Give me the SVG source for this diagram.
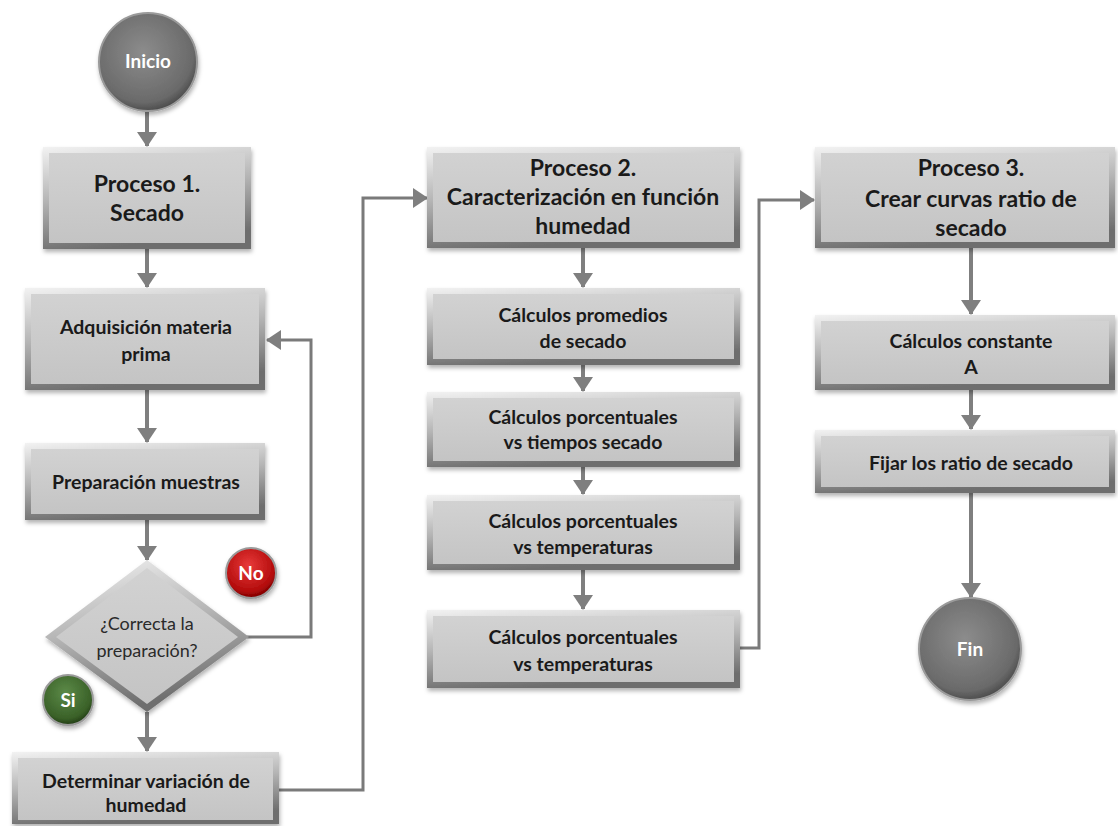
<svg xmlns="http://www.w3.org/2000/svg" width="1118" height="826" viewBox="0 0 1118 826">
<defs>
<linearGradient id="bevel" x1="0" y1="0" x2="0.25" y2="1">
<stop offset="0" stop-color="#f2f2f2"/><stop offset="0.5" stop-color="#b5b5b5"/><stop offset="1" stop-color="#6e6e6e"/>
</linearGradient>
<linearGradient id="face" x1="0" y1="0" x2="0" y2="1">
<stop offset="0" stop-color="#d2d2d2"/><stop offset="1" stop-color="#c4c4c4"/>
</linearGradient>
<radialGradient id="gray" cx="0.45" cy="0.4" r="0.6">
<stop offset="0" stop-color="#8c8c8c"/><stop offset="0.85" stop-color="#6a6a6a"/><stop offset="1" stop-color="#4e4e4e"/>
</radialGradient>
<radialGradient id="red" cx="0.45" cy="0.35" r="0.65">
<stop offset="0" stop-color="#e83a3a"/><stop offset="0.8" stop-color="#b30c0c"/><stop offset="1" stop-color="#7a0000"/>
</radialGradient>
<radialGradient id="green" cx="0.45" cy="0.35" r="0.65">
<stop offset="0" stop-color="#5c8a48"/><stop offset="0.8" stop-color="#3a6128"/><stop offset="1" stop-color="#223d15"/>
</radialGradient>
<filter id="sh" x="-10%" y="-10%" width="125%" height="130%">
<feDropShadow dx="1" dy="3" stdDeviation="2" flood-color="#000" flood-opacity="0.3"/>
</filter>
<marker id="ah" markerUnits="userSpaceOnUse" viewBox="0 0 15 20" refX="14" refY="10" markerWidth="15" markerHeight="20" orient="auto">
<path d="M0,0 L15,10 L0,20 z" fill="#7f7f7f"/>
</marker>
</defs>
<style>
.outer{fill:url(#bevel);filter:url(#sh)}
.inner{fill:url(#face)}
.big{font-family:Lato,"Open Sans",sans-serif;font-weight:bold;font-size:23px;fill:#1a1a1a;text-anchor:middle}
.sm{font-family:Lato,"Open Sans",sans-serif;font-weight:bold;font-size:19.5px;fill:#1a1a1a;text-anchor:middle}
.dq{font-family:Lato,"Open Sans",sans-serif;font-size:18px;fill:#2a2a2a;text-anchor:middle}
.wt{font-family:Lato,"Open Sans",sans-serif;font-weight:bold;font-size:19px;fill:#ffffff;text-anchor:middle}
.arr{stroke:#7f7f7f;stroke-width:4;fill:none;marker-end:url(#ah)}
.con{stroke:#7a7a7a;stroke-width:3;fill:none;marker-end:url(#ah)}
.circ{stroke:#9a9a9a;stroke-width:2;filter:url(#sh)}
</style>
<rect width="1118" height="826" fill="#ffffff"/>

<g id="connectors">
<line class="arr" x1="147" y1="112" x2="147" y2="146"/>
<line class="arr" x1="147" y1="249" x2="147" y2="287"/>
<line class="arr" x1="147" y1="390" x2="147" y2="442"/>
<line class="arr" x1="147" y1="520" x2="147" y2="560"/>
<line class="arr" x1="147" y1="712" x2="147" y2="751"/>
<polyline class="con" points="247,637 311,637 311,340 267,340"/>
<polyline class="con" points="279,790 363,790 363,198 427,198"/>
<line class="arr" x1="583" y1="248" x2="583" y2="287"/>
<line class="arr" x1="583" y1="365" x2="583" y2="391"/>
<line class="arr" x1="583" y1="467" x2="583" y2="494"/>
<line class="arr" x1="583" y1="570" x2="583" y2="609"/>
<polyline class="con" points="740,648 759,648 759,200 814,200"/>
<line class="arr" x1="971" y1="248" x2="971" y2="314"/>
<line class="arr" x1="971" y1="390" x2="971" y2="429"/>
<line class="arr" x1="971" y1="493" x2="971" y2="597"/>
</g>

<g id="inicio">
<circle class="circ" cx="148" cy="62" r="49" fill="url(#gray)"/>
<text class="wt" x="148" y="68">Inicio</text>
</g>

<g id="proceso1">
<rect class="outer" x="43" y="147" width="208" height="102"/>
<rect class="inner" x="49" y="153" width="196" height="90"/>
<text class="big" x="147" y="192">Proceso 1.</text>
<text class="big" x="147" y="221">Secado</text>
</g>

<g id="adquisicion">
<rect class="outer" x="25" y="288" width="240" height="102"/>
<rect class="inner" x="31" y="294" width="228" height="90"/>
<text class="sm" x="146" y="334">Adquisición materia</text>
<text class="sm" x="146" y="361">prima</text>
</g>

<g id="preparacion">
<rect class="outer" x="25" y="443" width="240" height="77"/>
<rect class="inner" x="31" y="449" width="228" height="65"/>
<text class="sm" x="146" y="489">Preparación muestras</text>
</g>

<g id="decision">
<polygon points="147,560 249,637 147,712 45,637" fill="url(#bevel)" filter="url(#sh)"/>
<polygon points="147,568 238,637 147,704 56,637" fill="url(#face)"/>
<text class="dq" x="147" y="630">¿Correcta la</text>
<text class="dq" x="147" y="657">preparación?</text>
</g>

<g id="no">
<circle class="circ" cx="251" cy="573" r="25" fill="url(#red)"/>
<text class="wt" x="251" y="580">No</text>
</g>

<g id="si">
<circle class="circ" cx="68" cy="700" r="25" fill="url(#green)"/>
<text class="wt" x="68" y="707">Si</text>
</g>

<g id="determinar">
<rect class="outer" x="12" y="752" width="267" height="72"/>
<rect class="inner" x="18" y="758" width="255" height="62"/>
<text class="sm" x="146" y="788">Determinar variación de</text>
<text class="sm" x="146" y="812">humedad</text>
</g>

<g id="proceso2">
<rect class="outer" x="427" y="147" width="313" height="101"/>
<rect class="inner" x="433" y="153" width="301" height="89"/>
<text class="big" x="583" y="176">Proceso 2.</text>
<text class="big" x="583" y="205">Caracterización en función</text>
<text class="big" x="583" y="234">humedad</text>
</g>

<g id="promedios">
<rect class="outer" x="427" y="288" width="313" height="77"/>
<rect class="inner" x="433" y="294" width="301" height="65"/>
<text class="sm" x="583" y="322">Cálculos promedios</text>
<text class="sm" x="583" y="348">de secado</text>
</g>

<g id="porc_tiempos">
<rect class="outer" x="427" y="392" width="313" height="75"/>
<rect class="inner" x="433" y="398" width="301" height="63"/>
<text class="sm" x="583" y="424">Cálculos porcentuales</text>
<text class="sm" x="583" y="449">vs tiempos secado</text>
</g>

<g id="porc_temp1">
<rect class="outer" x="427" y="495" width="313" height="75"/>
<rect class="inner" x="433" y="501" width="301" height="63"/>
<text class="sm" x="583" y="528">Cálculos porcentuales</text>
<text class="sm" x="583" y="554">vs temperaturas</text>
</g>

<g id="porc_temp2">
<rect class="outer" x="427" y="610" width="313" height="78"/>
<rect class="inner" x="433" y="616" width="301" height="66"/>
<text class="sm" x="583" y="644">Cálculos porcentuales</text>
<text class="sm" x="583" y="671">vs temperaturas</text>
</g>

<g id="proceso3">
<rect class="outer" x="815" y="147" width="300" height="101"/>
<rect class="inner" x="821" y="153" width="288" height="89"/>
<text class="big" x="971" y="176">Proceso 3.</text>
<text class="big" x="971" y="207">Crear curvas ratio de</text>
<text class="big" x="971" y="236">secado</text>
</g>

<g id="constante">
<rect class="outer" x="815" y="315" width="300" height="75"/>
<rect class="inner" x="821" y="321" width="288" height="63"/>
<text class="sm" x="971" y="348">Cálculos constante</text>
<text class="sm" x="971" y="374">A</text>
</g>

<g id="fijar">
<rect class="outer" x="815" y="430" width="300" height="63"/>
<rect class="inner" x="821" y="436" width="288" height="51"/>
<text class="sm" x="971" y="470">Fijar los ratio de secado</text>
</g>

<g id="fin">
<circle class="circ" cx="970" cy="649" r="51" fill="url(#gray)"/>
<text class="wt" x="970" y="656">Fin</text>
</g>
</svg>
